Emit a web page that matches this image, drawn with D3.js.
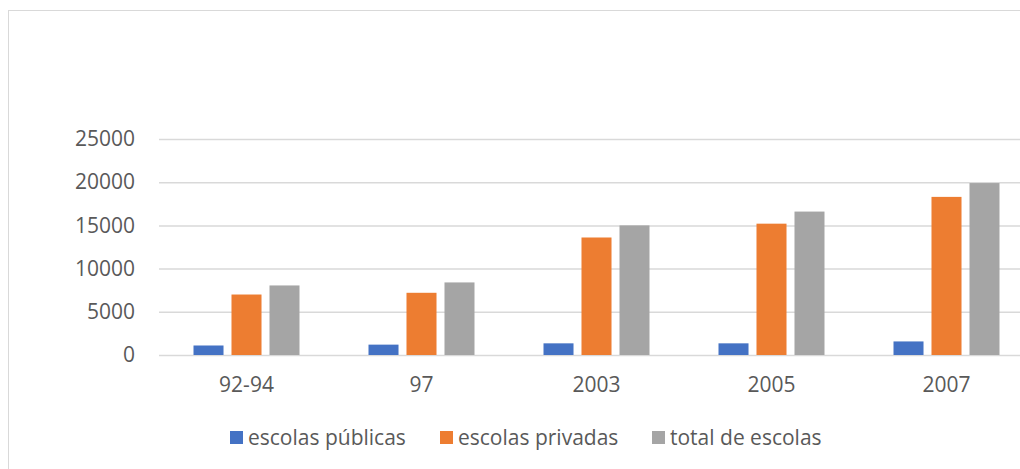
<!DOCTYPE html>
<html><head><meta charset="utf-8">
<script src="https://cdn.jsdelivr.net/npm/d3@7"></script>
<style>body{margin:0;background:#fff}svg{display:block}</style>
</head><body>
<svg id="c" width="1020" height="469"></svg>
<script>
const categories = ["92-94", "97", "2003", "2005", "2007"];
const seriesNames = ["escolas públicas", "escolas privadas", "total de escolas"];
const publicas = [1100, 1200, 1350, 1350, 1570];
const privadas = [7000, 7200, 13600, 15200, 18300];
const total = [8050, 8400, 15000, 16600, 19900];
const yTicks = [0, 5000, 10000, 15000, 20000, 25000];
const colors = ["#4472C4", "#ED7D31", "#A5A5A5"];

(function () {
const svg = d3.select("#c");
const font = "'Open Sans', sans-serif";
const textColor = "#595959";
const fs = "21px";

// chart frame
svg.append("rect").attr("x", 8.5).attr("y", 10.5).attr("width", 1040).attr("height", 500)
  .attr("fill", "none").attr("stroke", "#D9D9D9").attr("stroke-width", 1);

const pLeft = 159, pRight = 1034, pTop = 139, pBottom = 355;
const x = d3.scaleBand().domain(categories).range([pLeft, pRight]).paddingInner(0).paddingOuter(0);
const y = d3.scaleLinear().domain([0, 25000]).range([pBottom, pTop]);
const xs = d3.scaleBand().domain(seriesNames).range([0, x.bandwidth()]).paddingInner(0.21).paddingOuter(0.908);

// gridlines
const yAxis = d3.axisLeft(y).tickValues(yTicks).tickFormat(d3.format("d")).tickSize(-(pRight - pLeft)).tickPadding(24);
const ga = svg.append("g").attr("transform", `translate(${pLeft},0)`).call(yAxis);
ga.select(".domain").remove();
ga.selectAll(".tick line").attr("stroke", "#D9D9D9").attr("stroke-width", 1.5);
ga.selectAll(".tick text").attr("fill", textColor).style("font-family", font).style("font-size", fs);

const data = [publicas, privadas, total];
seriesNames.forEach((s, i) => {
  svg.append("g").selectAll("rect").data(categories).join("rect")
    .attr("x", c => x(c) + xs(s))
    .attr("width", xs.bandwidth())
    .attr("y", (c, j) => y(data[i][j]))
    .attr("height", (c, j) => y(0) - y(data[i][j]))
    .attr("fill", colors[i]);
});

// x axis labels
const xAxis = d3.axisBottom(x).tickSize(0).tickPadding(22);
const gx = svg.append("g").attr("transform", `translate(0,${pBottom})`).call(xAxis);
gx.select(".domain").remove();
gx.selectAll(".tick text").attr("fill", textColor).style("font-family", font).style("font-size", fs);

// legend
const legendX = [230, 440, 652];
const lg = svg.append("g");
seriesNames.forEach((s, i) => {
  lg.append("rect").attr("x", legendX[i]).attr("y", 431).attr("width", 13).attr("height", 13).attr("fill", colors[i]);
  lg.append("text").attr("x", legendX[i] + 18).attr("y", 437.5).attr("dy", "0.35em")
    .attr("fill", textColor).style("font-family", font).style("font-size", fs).text(s);
});
})();
</script>
</body></html>
